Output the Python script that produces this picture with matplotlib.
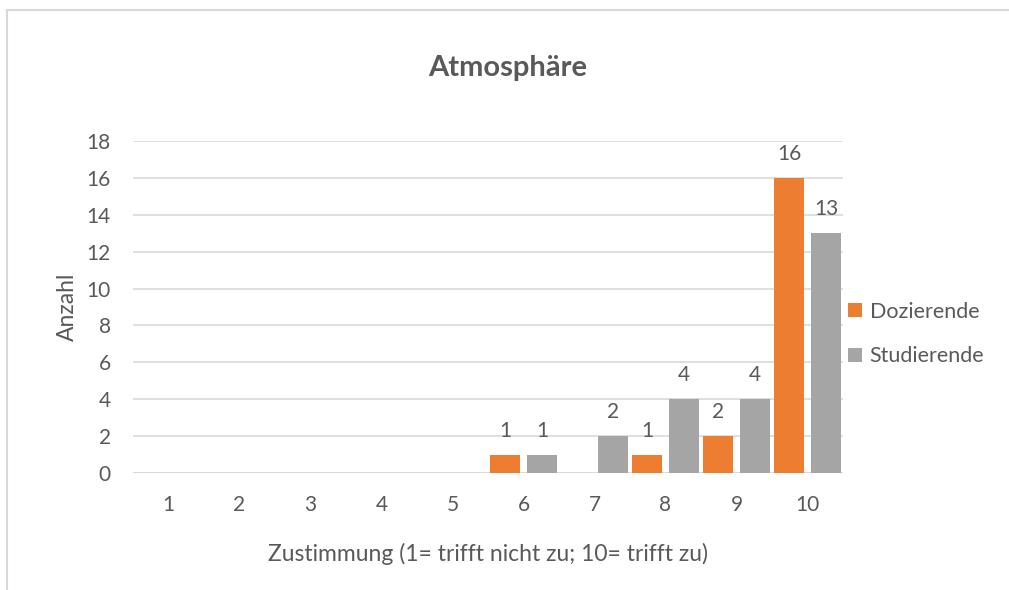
import matplotlib
matplotlib.use("Agg")
import matplotlib.pyplot as plt
from matplotlib.patches import Rectangle
import numpy as np

plt.rcParams['font.family'] = ['Lato', 'DejaVu Sans']

categories = ['1', '2', '3', '4', '5', '6', '7', '8', '9', '10']
dozierende = [0, 0, 0, 0, 0, 1, 0, 1, 2, 16]
studierende = [0, 0, 0, 0, 0, 1, 2, 4, 4, 13]
yticks = [0, 2, 4, 6, 8, 10, 12, 14, 16, 18]

text_col = '#595959'
orange = '#ED7D31'
gray = '#A5A5A5'

fig = plt.figure(figsize=(10.09, 5.9), dpi=100)
# chart border
fig.patches.append(Rectangle((7 / 1009, -0.1), 1.2, 1 - 10 / 590 + 0.1,
                             transform=fig.transFigure, fill=False,
                             edgecolor='#D9D9D9', linewidth=1.5))

ax = fig.add_axes([133 / 1009, 1 - 473 / 590, 710 / 1009, 332 / 590])
x = np.arange(len(categories))
w = 0.41
off = 0.26
b1 = ax.bar(x - off, dozierende, w, color=orange, label='Dozierende', zorder=3)
b2 = ax.bar(x + off, studierende, w, color=gray, label='Studierende', zorder=3)

for bars, vals in ((b1, dozierende), (b2, studierende)):
    for r, v in zip(bars, vals):
        if v > 0:
            ax.annotate(str(v), (r.get_x() + r.get_width() / 2, v),
                        xytext=(0, 10), textcoords='offset points',
                        ha='center', va='bottom', fontsize=15, color=text_col)

ax.set_xlim(-0.5, len(categories) - 0.5)
ax.set_ylim(0, 18)
ax.set_yticks(yticks)
ax.set_xticks(x)
ax.set_xticklabels(categories)
ax.grid(axis='y', color='#D9D9D9', linewidth=1.2, zorder=0)
for s in ax.spines.values():
    s.set_visible(False)
ax.axhline(0, color='#D9D9D9', linewidth=1.2, zorder=2)
ax.tick_params(axis='both', length=0, labelsize=15, labelcolor=text_col)
ax.tick_params(axis='y', pad=16)
ax.tick_params(axis='x', pad=16)

ax.set_xlabel('Zustimmung (1= trifft nicht zu; 10= trifft zu)', fontsize=16.5,
              color=text_col, labelpad=20)
ax.set_ylabel('Anzahl', fontsize=16.5, color=text_col, labelpad=6)

fig.text(0.503, 1 - 68 / 590, 'Atmosphäre', ha='center', va='center',
         fontsize=21, fontweight='bold', color=text_col)

leg = ax.legend(loc='center left', bbox_to_anchor=(848 / 1009, 1 - 334 / 590),
                bbox_transform=fig.transFigure, frameon=False,
                fontsize=15.5, handlelength=0.65, handleheight=0.65,
                handletextpad=0.35, labelspacing=1.15, borderaxespad=0,
                borderpad=0)
for t in leg.get_texts():
    t.set_color(text_col)

fig.savefig('out.png', dpi=100)
